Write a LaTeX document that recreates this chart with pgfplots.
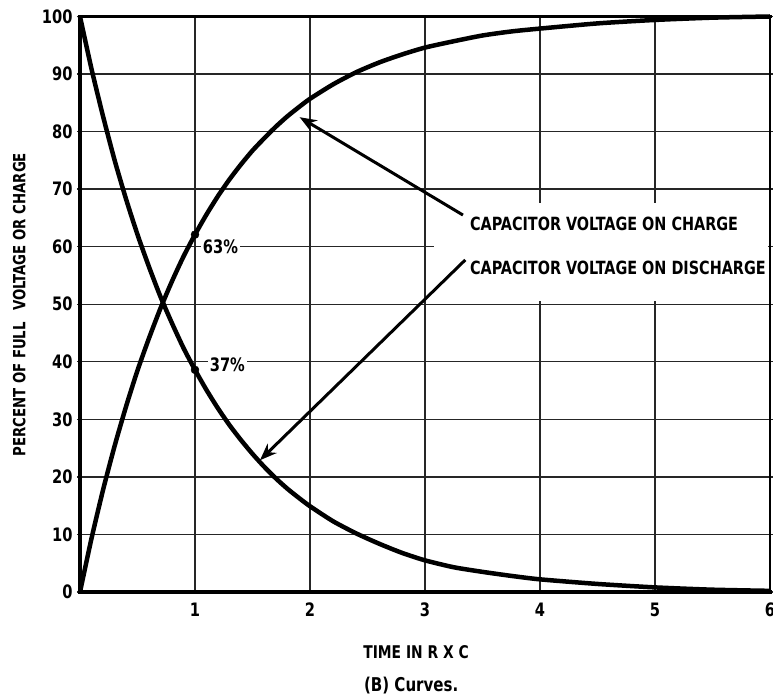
\documentclass[border=0pt]{standalone}
\usepackage{pgfplots}
\pgfplotsset{compat=1.18}
\usetikzlibrary{arrows.meta}
\usepackage{fontspec}
\setmainfont{DejaVu Sans Condensed}[FakeStretch=0.88, BoldFont={DejaVu Sans Condensed Bold}]

\pgfplotstableread{
x y
0 0
0.1 9.3
0.2 17.7
0.3 25.3
0.4 32.2
0.5 38.5
0.6 44.1
0.7 49.3
0.8 54.0
0.9 58.3
1.0 62.1
1.1 65.6
1.2 68.8
1.3 71.7
1.4 74.3
1.5 76.7
1.6 78.8
1.7 80.8
1.8 82.6
1.9 84.2
2.0 85.7
2.2 88.2
2.4 90.3
2.6 92.0
2.8 93.4
3.0 94.6
3.25 95.7
3.5 96.7
3.75 97.4
4.0 97.9
4.5 98.8
5.0 99.4
5.5 99.8
6.0 100
}\chargedata

\pgfplotstableread{
x y
0 100
0.1 90.9
0.2 82.7
0.3 75.1
0.4 68.3
0.5 62.1
0.6 56.5
0.7 51.3
0.8 46.7
0.9 42.4
1.0 38.6
1.1 35.1
1.2 31.9
1.3 29.0
1.4 26.4
1.5 24.0
1.6 21.8
1.7 19.8
1.8 18.0
1.9 16.4
2.0 14.9
2.2 12.3
2.4 10.2
2.6 8.4
2.8 6.8
3.0 5.5
3.25 4.3
3.5 3.5
3.75 2.8
4.0 2.2
4.5 1.4
5.0 0.8
5.5 0.4
6.0 0.2
}\dischargedata

\begin{document}
\begin{tikzpicture}
\begin{axis}[
  name=main,
  scale only axis, width=690pt, height=575.5pt,
  xmin=0, xmax=6, ymin=0, ymax=100,
  xtick={1,2,3,4,5,6}, ytick={0,10,...,100},
  grid=major,
  major grid style={line width=1.3pt, black!85},
  axis line style={draw=none},
  xtick style={draw=none},
  ytick style={line width=1.3pt, black!85},
  tick align=outside, major tick length=3pt,
  tick label style={font=\fontsize{18.5}{19}\selectfont\bfseries},
  /pgf/number format/assume math mode=true,
  xticklabel style={yshift=-4pt},
  yticklabel style={xshift=-1pt},
  clip=false,
  xlabel={TIME IN R X C},
  xlabel style={at={(axis description cs:0.487,-0.104)}, anchor=center, font=\fontsize{17.5}{18}\selectfont\bfseries},
  ylabel={PERCENT OF FULL\hspace{0.4em} VOLTAGE OR CHARGE},
  ylabel style={at={(axis description cs:-0.088,0.499)}, anchor=center, font=\fontsize{16.8}{18}\selectfont\bfseries},
]
\fill[white] (axis cs:3.08,50.6) rectangle (axis cs:5.985,67.6);

\addplot[line width=4.5pt, black, smooth, tension=0.4] table {\chargedata};
\addplot[line width=4.5pt, black, smooth, tension=0.4] table {\dischargedata};
\addplot[only marks, mark=*, mark size=4pt, black] coordinates {(1,62.1) (1,38.6)};

\draw[line width=3.5pt, line cap=rect] (axis cs:6,100) -- (axis cs:0,100) -- (axis cs:0,0) -- (axis cs:6,0);
\draw[line width=2pt] (axis cs:6,0) -- (axis cs:6,100);

\node[fill=white, anchor=west, inner sep=2pt, font=\fontsize{18.5}{19}\selectfont\bfseries] at (axis cs:1.05,60) {63\%};
\node[fill=white, anchor=west, inner sep=2pt, font=\fontsize{18.5}{19}\selectfont\bfseries] at (axis cs:1.11,39.4) {37\%};

\draw[line width=3pt, -{Stealth[length=17pt, width=13pt]}] (axis cs:3.33,65.5) -- (axis cs:1.91,82.5);
\draw[line width=3pt, -{Stealth[length=17pt, width=13pt]}] (axis cs:3.35,57.7) -- (axis cs:1.565,22.9);

\node[anchor=west, inner sep=0pt, font=\fontsize{18.2}{19}\selectfont\bfseries] at (axis cs:3.39,63.9) {CAPACITOR VOLTAGE ON CHARGE};
\node[anchor=west, inner sep=0pt, font=\fontsize{18.2}{19}\selectfont\bfseries] at (axis cs:3.39,56.3) {CAPACITOR VOLTAGE ON DISCHARGE};

\node[anchor=center, font=\fontsize{19}{20}\selectfont\bfseries] at (axis description cs:0.48,-0.163) {(B) Curves.};
\end{axis}
\pgfresetboundingbox
\path[use as bounding box] ([shift={(-80pt,-106pt)}]main.south west) rectangle ([shift={(3pt,16.5pt)}]main.north east);
\end{tikzpicture}
\end{document}
